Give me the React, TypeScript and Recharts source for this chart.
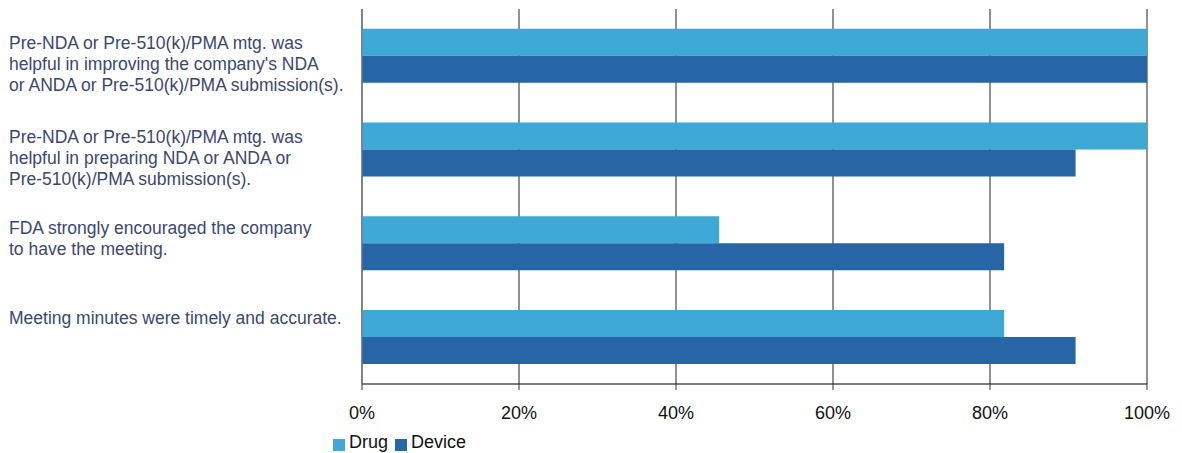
import { BarChart, Bar, XAxis, YAxis, CartesianGrid } from 'recharts';

const categories = [
  "Pre-NDA or Pre-510(k)/PMA mtg. was|helpful in improving the company's NDA|or ANDA or Pre-510(k)/PMA submission(s).",
  'Pre-NDA or Pre-510(k)/PMA mtg. was|helpful in preparing NDA or ANDA or|Pre-510(k)/PMA submission(s).',
  'FDA strongly encouraged the company|to have the meeting.',
  'Meeting minutes were timely and accurate.',
];
const drugValues = [100, 100, 45.5, 81.8];
const deviceValues = [100, 90.9, 81.8, 90.9];
const xTicks = [0, 20, 40, 60, 80, 100];

const data = categories.map((name, i) => ({
  name,
  drug: drugValues[i],
  device: deviceValues[i],
}));

const FONT = '"Liberation Sans", Arial, sans-serif';
const LABEL_COLOR = '#3a4870';
const DRUG = '#3ea8d7';
const DEVICE = '#2666a6';

function CategoryTick(props: any) {
  const { y, payload } = props;
  const lines = String(payload.value).split('|');
  // labels sit a bit above the band centre, less so for longer labels
  const top = y - 22 + 3 * lines.length;
  return (
    <text x={1} y={top} fill={LABEL_COLOR} fontSize={17.5} fontFamily={FONT} textAnchor="start">
      {lines.map((line, i) => (
        <tspan key={i} x={1} dy={i === 0 ? '0.35em' : 21}>
          {line}
        </tspan>
      ))}
    </text>
  );
}

export default function App() {
  return (
    <div style={{ position: 'relative', width: 1174, height: 445, fontFamily: FONT }}>
      <BarChart
        width={1174}
        height={445}
        data={data}
        layout="vertical"
        margin={{ top: 1, right: 35, left: 0, bottom: 29 }}
        barCategoryGap="21%"
        barGap={0}
      >
        <CartesianGrid horizontal={false} stroke="#222" />
        <XAxis
          type="number"
          domain={[0, 100]}
          ticks={xTicks}
          tickFormatter={(v) => `${v}%`}
          axisLine={{ stroke: '#000' }}
          tickLine={{ stroke: '#333' }}
          tickSize={6}
          tickMargin={16}
          tick={{ fill: '#111', fontSize: 18, fontFamily: FONT }}
          height={40}
        />
        <YAxis
          type="category"
          dataKey="name"
          width={354}
          axisLine={{ stroke: '#777' }}
          tickLine={false}
          tick={<CategoryTick />}
          interval={0}
        />
        <Bar dataKey="drug" fill={DRUG} isAnimationActive={false} />
        <Bar dataKey="device" fill={DEVICE} isAnimationActive={false} />
      </BarChart>
      <div
        style={{
          position: 'absolute',
          left: 325,
          top: 424,
          display: 'flex',
          alignItems: 'center',
          fontSize: 18,
          color: '#111',
        }}
      >
        <span style={{ width: 12, height: 12, background: DRUG, display: 'inline-block', marginRight: 4, marginTop: 4 }} />
        <span style={{ marginRight: 7 }}>Drug</span>
        <span style={{ width: 12, height: 12, background: DEVICE, display: 'inline-block', marginRight: 4, marginTop: 4 }} />
        <span>Device</span>
      </div>
    </div>
  );
}
